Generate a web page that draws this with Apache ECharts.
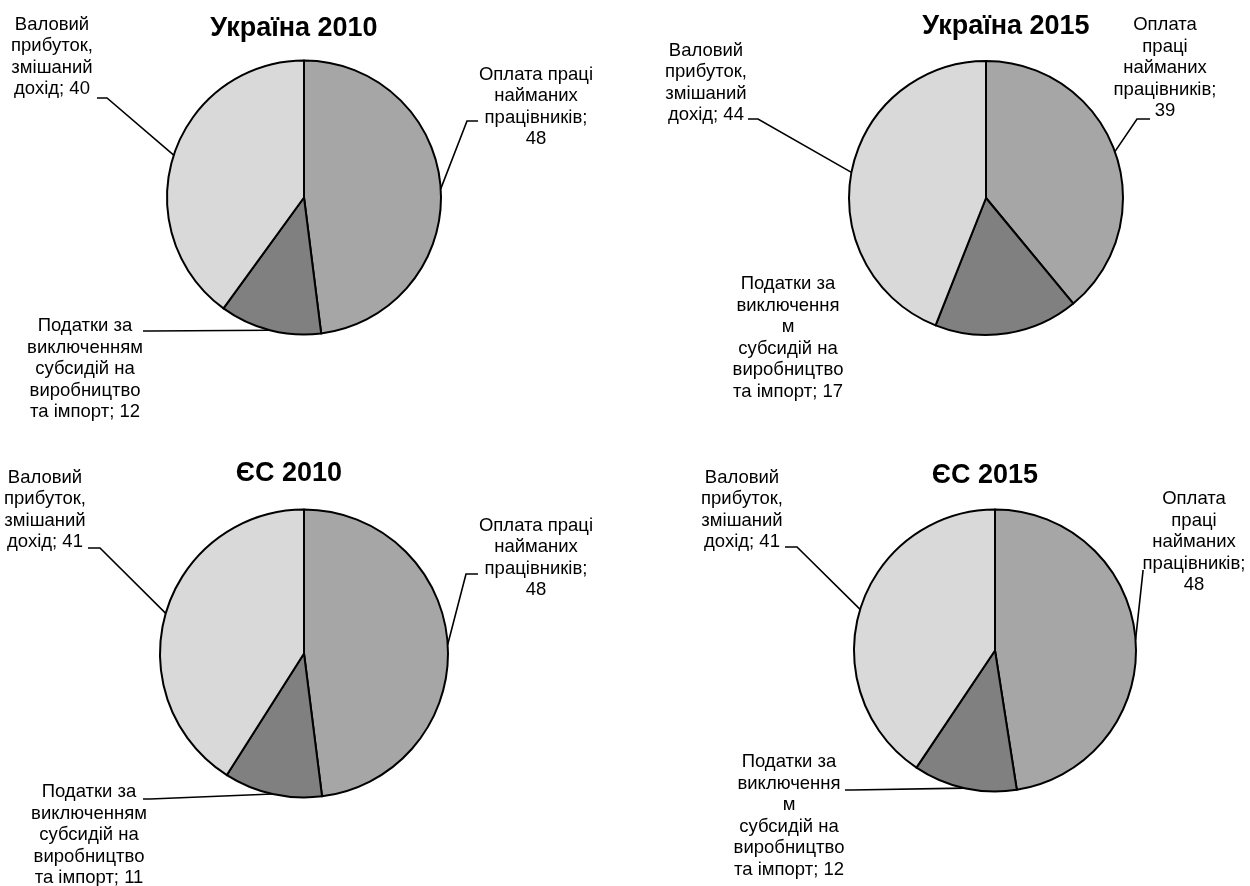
<!DOCTYPE html>
<html>
<head>
<meta charset="utf-8">
<script src="https://cdn.jsdelivr.net/npm/echarts@6/dist/echarts.min.js"></script>
<style>
  html, body { margin: 0; padding: 0; background: #ffffff; }
  #main { width: 1250px; height: 886px; }
</style>
</head>
<body>
<div id="main"></div>
<script>
// дані
var categories = ['Оплата праці найманих працівників',
                  'Податки за виключенням субсидій на виробництво та імпорт',
                  'Валовий прибуток, змішаний дохід'];
var chartTitles = ['Україна 2010', 'Україна 2015', 'ЄС 2010', 'ЄС 2015'];
var ua2010 = [48, 12, 40];
var ua2015 = [39, 17, 44];
var eu2010 = [48, 11, 41];
var eu2015 = [48, 12, 41];
var allValues = [ua2010, ua2015, eu2010, eu2015];

// перенесення рядків у підписах (як у вихідному малюнку)
var wrap2010 = ['Оплата праці\nнайманих\nпрацівників;\n',
                'Податки за\nвиключенням\nсубсидій на\nвиробництво\nта імпорт; ',
                'Валовий\nприбуток,\nзмішаний\nдохід; '];
var wrap2015 = ['Оплата\nпраці\nнайманих\nпрацівників;\n',
                'Податки за\nвиключення\nм\nсубсидій на\nвиробництво\nта імпорт; ',
                'Валовий\nприбуток,\nзмішаний\nдохід; '];
var wraps = [wrap2010, wrap2015, wrap2010, wrap2015];

// розміщення
var pies = [
    {center: [304, 197.5], r: 137, title: [294, 27]},
    {center: [986, 198], r: 137, title: [1006, 25]},
    {center: [304, 653.5], r: 144, title: [289, 472]},
    {center: [995, 650.5], r: 141, title: [985, 474]}
];
var labelPos = [
    [ {x: 536, y: 107, anchor: [478, 121], elbow: [467, 121]},
      {x: 85, y: 369, anchor: [143, 331], elbow: [150, 331]},
      {x: 52, y: 57, anchor: [97, 98], elbow: [107, 98]} ],
    [ {x: 1165, y: 68, anchor: [1150, 119], elbow: [1137, 119]},
      {x: 788, y: 338, anchor: null},
      {x: 706, y: 83, anchor: [748, 119], elbow: [758, 119]} ],
    [ {x: 536, y: 558, anchor: [478, 574], elbow: [466, 574]},
      {x: 89, y: 835, anchor: [143, 799], elbow: [150, 799]},
      {x: 45, y: 510, anchor: [88, 548], elbow: [100, 548]} ],
    [ {x: 1194, y: 542, anchor: [1143, 570], elbow: [1143, 571]},
      {x: 789, y: 816, anchor: [845, 790], elbow: [852, 790]},
      {x: 742, y: 510, anchor: [785, 547], elbow: [797, 547]} ]
];
var sliceColors = ['#a6a6a6', '#808080', '#d9d9d9'];
var fontFam = '"Liberation Sans", Arial, sans-serif';

var myChart = echarts.init(document.getElementById('main'));

var titles = [];
var series = [];
chartTitles.forEach(function (t, k) {
    titles.push({
        text: t,
        left: pies[k].title[0],
        top: pies[k].title[1] - 12,
        textAlign: 'center',
        padding: 0,
        textStyle: {fontFamily: fontFam, fontSize: 27, fontWeight: 'bold', color: '#000'}
    });
    var items = allValues[k].map(function (v, i) {
        var item = {
            name: categories[i],
            value: v,
            itemStyle: {color: sliceColors[i]}
        };
        if (!labelPos[k][i].anchor) {
            item.labelLine = {show: false};
        }
        return item;
    });
    series.push({
        name: t,
        type: 'pie',
        center: pies[k].center,
        radius: pies[k].r,
        startAngle: 90,
        clockwise: true,
        avoidLabelOverlap: false,
        animation: false,
        silent: true,
        itemStyle: {borderColor: '#000', borderWidth: 2},
        label: {
            show: true,
            position: 'outside',
            fontFamily: fontFam,
            fontSize: 18.5,
            lineHeight: 21.5,
            color: '#000',
            align: 'center',
            formatter: function (p) {
                return wraps[k][p.dataIndex] + p.value;
            }
        },
        labelLine: {
            show: true,
            length: 10,
            length2: 10,
            lineStyle: {color: '#000', width: 1.6}
        },
        labelLayout: function (params) {
            var cfg = labelPos[k][params.dataIndex];
            var out = {x: cfg.x, y: cfg.y, align: 'center', verticalAlign: 'middle'};
            if (cfg.anchor && params.labelLinePoints) {
                out.labelLinePoints = [params.labelLinePoints[0], cfg.elbow, cfg.anchor];
            }
            return out;
        },
        data: items
    });
});

myChart.setOption({
    backgroundColor: '#ffffff',
    animation: false,
    title: titles,
    series: series
});
</script>
</body>
</html>
